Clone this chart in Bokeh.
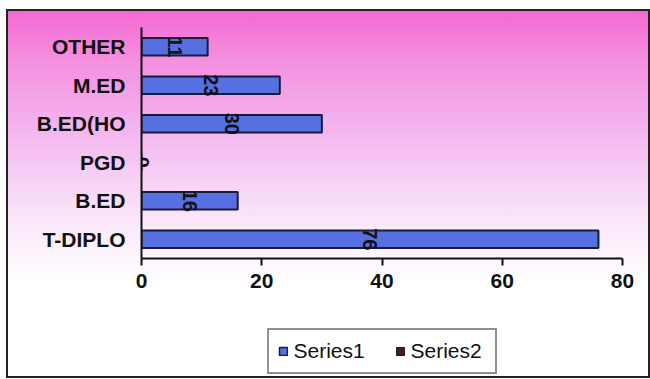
import math
from bokeh.plotting import figure
from bokeh.layouts import column
from bokeh.models import ColumnDataSource, Legend, LegendItem, FixedTicker, Range1d
from bokeh.core.properties import value
from bokeh.embed import file_html
from bokeh.resources import INLINE

categories = ["T-DIPLO", "B.ED", "PGD", "B.ED(HO", "M.ED", "OTHER"]
series1 = [76, 16, 0, 30, 23, 11]
series2 = [None, None, None, None, None, None]
x_ticks = [0, 20, 40, 60, 80]

FONT = "Liberation Sans"
BAR_FILL = "#5670e2"
BAR_LINE = "#1a1a3a"
S2_FILL = "#4a1a2e"

src1 = ColumnDataSource(dict(
    cat=categories,
    val=series1,
    mid=[v / 2 for v in series1],
    lab=[str(v) for v in series1],
))
src2 = ColumnDataSource(dict(cat=categories, val=[float("nan") if v is None else v for v in series2]))

p = figure(
    y_range=categories,
    x_range=Range1d(0, 80),
    width=640, height=289,
    output_backend="svg",
    toolbar_location=None,
    min_border_left=133, min_border_right=26,
    min_border_top=16, min_border_bottom=42,
)
p.background_fill_alpha = 0
p.border_fill_alpha = 0
p.outline_line_color = None
p.grid.visible = False

p.hbar(y="cat", right="val", height=0.45, source=src1,
       fill_color=BAR_FILL, line_color=BAR_LINE, line_width=2)
p.hbar(y="cat", right="val", height=0.45, source=src2,
       fill_color=S2_FILL, line_color="#1a1a1a", line_width=1)

p.text(x="mid", y="cat", text="lab", source=src1, angle=-math.pi / 2,
       text_align="center", text_baseline="middle",
       text_font=value(FONT), text_font_style="bold", text_font_size="20px",
       text_color="#111111")

# axes
p.xaxis.ticker = FixedTicker(ticks=x_ticks)
p.xaxis.axis_line_color = "#111111"
p.xaxis.axis_line_width = 2
p.xaxis.major_tick_line_color = "#111111"
p.xaxis.major_tick_line_width = 2
p.xaxis.major_tick_out = 7
p.xaxis.major_tick_in = 0
p.xaxis.minor_tick_line_color = None
p.xaxis.major_label_text_font = FONT
p.xaxis.major_label_text_font_style = "bold"
p.xaxis.major_label_text_font_size = "21px"
p.xaxis.major_label_text_color = "#111111"
p.xaxis.major_label_standoff = 8

p.yaxis.axis_line_color = "#111111"
p.yaxis.axis_line_width = 2
p.yaxis.major_tick_line_color = None
p.yaxis.minor_tick_line_color = None
p.yaxis.major_tick_out = 0
p.yaxis.major_label_text_font = FONT
p.yaxis.major_label_text_font_style = "bold"
p.yaxis.major_label_text_font_size = "21px"
p.yaxis.major_label_text_color = "#111111"
p.yaxis.major_label_standoff = 16

# legend strip: hidden renderers, only their legend swatches show
p2 = figure(
    y_range=categories,
    x_range=Range1d(0, 80),
    width=640, height=76,
    output_backend="svg",
    toolbar_location=None,
    x_axis_location=None, y_axis_location=None,
    min_border_left=104, min_border_right=0,
    min_border_top=26, min_border_bottom=0,
)
p2.background_fill_alpha = 0
p2.border_fill_alpha = 0
p2.outline_line_color = None
p2.xgrid.visible = False
p2.ygrid.visible = False
l1 = p2.hbar(y="cat", right="val", height=0.45, source=src1,
             fill_color=BAR_FILL, line_color=BAR_LINE, line_width=1.5, visible=False)
l2 = p2.hbar(y="cat", right="val", height=0.45, source=src2,
             fill_color=S2_FILL, line_color="#1a1a1a", line_width=1, visible=False)

legend = Legend(
    items=[LegendItem(label="Series1", renderers=[l1]),
           LegendItem(label="Series2", renderers=[l2])],
    orientation="horizontal",
    location="center",
    label_text_font=FONT,
    label_text_font_size="21px",
    label_text_color="#111111",
    glyph_width=10, glyph_height=10,
    label_standoff=6,
    label_width=75,
    spacing=26,
    padding=9,
    margin=0,
    border_line_color="#222222",
    border_line_width=2,
    background_fill_color="white",
    background_fill_alpha=1,
    inactive_fill_alpha=0,
)
p2.add_layout(legend, "center")

layout = column(p, p2, spacing=0)
layout.margin = (11, 2, 3, 8)
layout.styles = {
    "background": "linear-gradient(to bottom, #f568d4 0%, #f38fde 13%, #f3b0ee 30%, #f6cff4 45%, #fbebfa 60%, #ffffff 74%, #ffffff 100%)",
    "outline": "2px solid #222222",
}

open("out.html", "w").write(file_html(layout, INLINE))
